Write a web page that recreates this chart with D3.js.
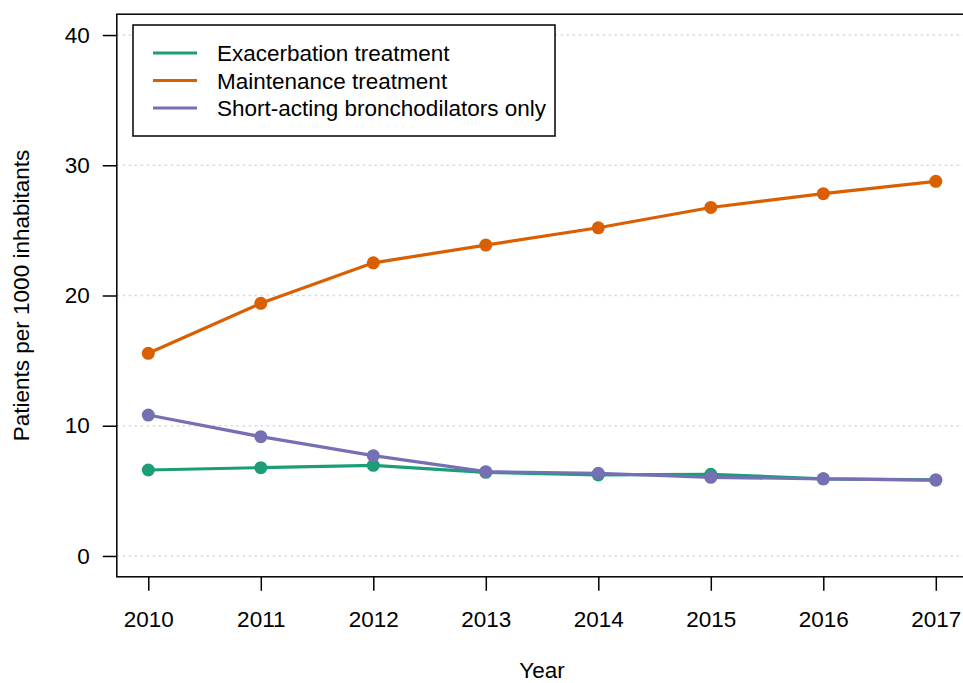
<!DOCTYPE html>
<html>
<head>
<meta charset="utf-8">
<script src="https://cdn.jsdelivr.net/npm/d3@7"></script>
<style>
  html, body { margin: 0; padding: 0; background: #fff; }
  svg { display: block; font-family: "Liberation Sans", Arial, sans-serif; }
</style>
</head>
<body>
<svg width="963" height="683"></svg>
<script>
// data
var years = [2010, 2011, 2012, 2013, 2014, 2015, 2016, 2017];
var exacerbation = [6.60, 6.78, 6.96, 6.42, 6.22, 6.27, 5.92, 5.84];
var maintenance = [15.56, 19.40, 22.51, 23.87, 25.20, 26.76, 27.82, 28.77];
var shortActing = [10.82, 9.16, 7.70, 6.47, 6.35, 6.04, 5.92, 5.83];
var seriesNames = ["Exacerbation treatment", "Maintenance treatment", "Short-acting bronchodilators only"];
var seriesColors = ["#1B9E77", "#D95F02", "#7570B3"];
var yTicks = [0, 10, 20, 30, 40];

var svg = d3.select("svg");
var fontSize = "22.5px";

// R style: axis ranges padded by 4% each side
var xScale = d3.scaleLinear().domain([2010 - 0.28, 2017 + 0.28]).range([116.8, 967.3]);
var yScale = d3.scaleLinear().domain([-1.6, 41.6]).range([576.8, 14.2]);

var plotLeft = xScale.range()[0], plotRight = xScale.range()[1];
var plotTop = yScale.range()[1], plotBottom = yScale.range()[0];

// dotted grid lines
svg.append("g").selectAll("line").data(yTicks).enter().append("line")
  .attr("x1", plotLeft).attr("x2", plotRight)
  .attr("y1", function (d) { return yScale(d); })
  .attr("y2", function (d) { return yScale(d); })
  .attr("stroke", "#d3d3d3").attr("stroke-width", 1.5)
  .attr("stroke-dasharray", "2,4");

// axes
var xAxis = svg.append("g")
  .attr("transform", "translate(0," + plotBottom + ")")
  .call(d3.axisBottom(xScale).tickValues(years).tickFormat(d3.format("d")).tickSize(14).tickPadding(20).tickSizeOuter(0));
var yAxis = svg.append("g")
  .attr("transform", "translate(" + plotLeft + ",0)")
  .call(d3.axisLeft(yScale).tickValues(yTicks).tickSize(14).tickPadding(13).tickSizeOuter(0));

[xAxis, yAxis].forEach(function (ax) {
  ax.select(".domain").remove();
  ax.selectAll("line").attr("stroke", "#000").attr("stroke-width", 1.5);
  ax.selectAll("text").attr("font-size", fontSize).attr("font-family", "Liberation Sans, Arial, sans-serif").attr("fill", "#000");
});
xAxis.selectAll("text").attr("dy", "0.71em");

// plot box
svg.append("rect")
  .attr("x", plotLeft).attr("y", plotTop)
  .attr("width", plotRight - plotLeft).attr("height", plotBottom - plotTop)
  .attr("fill", "none").attr("stroke", "#000").attr("stroke-width", 1.5);

// axis titles
svg.append("text")
  .attr("x", (plotLeft + plotRight) / 2).attr("y", 678)
  .attr("text-anchor", "middle").attr("font-size", fontSize)
  .text("Year");
svg.append("text")
  .attr("transform", "translate(29," + (plotTop + plotBottom) / 2 + ") rotate(-90)")
  .attr("text-anchor", "middle").attr("font-size", fontSize)
  .text("Patients per 1000 inhabitants");

// lines and points
var allSeries = [exacerbation, maintenance, shortActing];
var line = d3.line()
  .x(function (d, i) { return xScale(years[i]); })
  .y(function (d) { return yScale(d); });

allSeries.forEach(function (values, k) {
  var g = svg.append("g");
  g.append("path")
    .datum(values)
    .attr("d", line)
    .attr("fill", "none")
    .attr("stroke", seriesColors[k])
    .attr("stroke-width", 3.2);
  g.selectAll("circle").data(values).enter().append("circle")
    .attr("cx", function (d, i) { return xScale(years[i]); })
    .attr("cy", function (d) { return yScale(d); })
    .attr("r", 6.5)
    .attr("fill", seriesColors[k]);
});

// legend
var legend = svg.append("g");
legend.append("rect")
  .attr("x", 133).attr("y", 25).attr("width", 422).attr("height", 111)
  .attr("fill", "#fff").attr("stroke", "#000").attr("stroke-width", 1.5);
seriesNames.forEach(function (name, k) {
  var y = 53 + k * 27.5;
  legend.append("line")
    .attr("x1", 153).attr("x2", 197).attr("y1", y).attr("y2", y)
    .attr("stroke", seriesColors[k]).attr("stroke-width", 3.2);
  legend.append("text")
    .attr("x", 217).attr("y", y).attr("dy", "0.36em")
    .attr("font-size", fontSize)
    .text(name);
});
</script>
</body>
</html>
